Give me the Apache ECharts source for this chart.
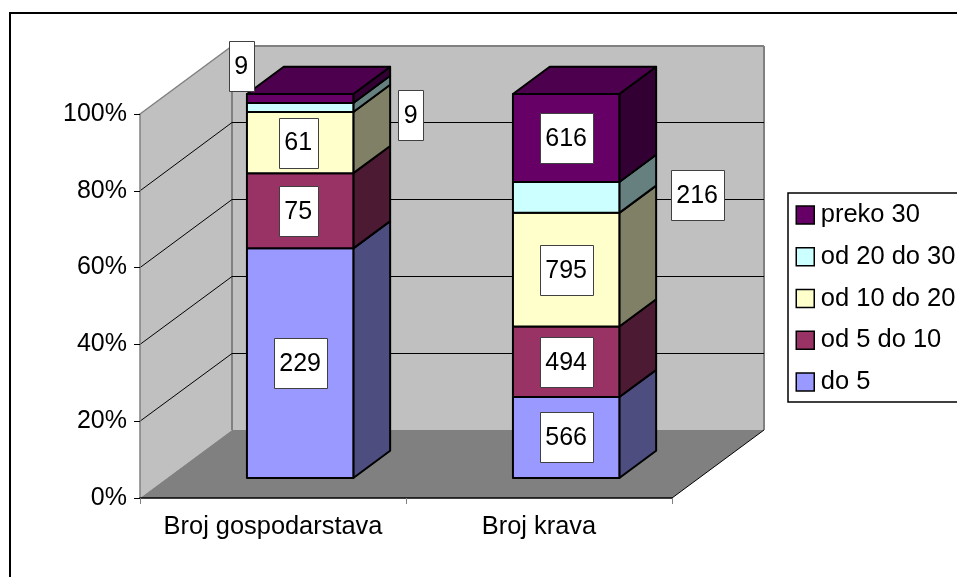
<!DOCTYPE html>
<html>
<head>
<meta charset="utf-8">
<style>html,body{margin:0;padding:0;background:#fff;overflow:hidden}#c{width:957px;height:577px}</style>
<script src="https://cdn.jsdelivr.net/npm/echarts@6/dist/echarts.min.js"></script>
</head>
<body>
<div id="c"></div>
<script>
// ---- data ----
const categories = ['Broj gospodarstava', 'Broj krava'];
const seriesNames = ['do 5', 'od 5 do 10', 'od 10 do 20', 'od 20 do 30', 'preko 30'];
const do5 = [229, 566];
const od5do10 = [75, 494];
const od10do20 = [61, 795];
const od20do30 = [9, 216];
const preko30 = [9, 616];
const gridTicks = [20, 40, 60, 80];

// ---- styles ----
const faceColors = ['#9999FF', '#993366', '#FFFFCC', '#CCFFFF', '#660066'];
const sideColors = ['#4D4D80', '#4D1A33', '#808066', '#668080', '#330033'];
const topColor = '#4D004D';
const FONT = '25px "Liberation Sans", Arial, sans-serif';
// projection of the 3D depth axis, in pixels
const DEPTH_X = 92, DEPTH_Y = 68;
const BAR_FRONT = 0.295, BAR_DEPTH = 0.4;   // share of the depth
const BAR_WIDTH = 0.4;                      // share of the band
// hand-moved labels: seriesIndex-categoryIndex -> shift from the face centre
const labelShift = {'4-0': [-59, -32], '3-0': [110.5, 7.5], '3-1': [131, -2.5], '2-0': [-2, 0], '1-0': [-2, 0]};

const stacks = [do5, od5do10, od10do20, od20do30, preko30];
const totals = categories.map((_, c) => stacks.reduce((s, a) => s + a[c], 0));
function rowsFor(level) {
  return categories.map((_, c) => {
    let below = 0;
    for (let i = 0; i < level; i++) below += stacks[i][c];
    return [c, below / totals[c] * 100, (below + stacks[level][c]) / totals[c] * 100, stacks[level][c]];
  });
}

function poly(pts, fill, stroke, lw) {
  return {type: 'polygon', shape: {points: pts}, style: {fill: fill, stroke: stroke || null, lineWidth: lw || 0, lineJoin: 'round'}};
}
function line(a, b, stroke, lw) {
  return {type: 'line', shape: {x1: a[0], y1: a[1], x2: b[0], y2: b[1]}, style: {stroke: stroke, lineWidth: lw}};
}

function renderWalls(params, api) {
  const band = api.size([1, 0])[0];
  const x0 = api.coord([0, 0])[0] - band / 2;
  const x1 = x0 + band * categories.length;
  const y0 = api.coord([0, 0])[1];
  const yT = api.coord([0, 100])[1];
  const gray = '#808080';
  const kids = [
    poly([[x0, yT], [x0 + DEPTH_X, yT - DEPTH_Y], [x0 + DEPTH_X, y0 - DEPTH_Y], [x0, y0]], '#C0C0C0'),
    poly([[x0 + DEPTH_X, yT - DEPTH_Y], [x1 + DEPTH_X, yT - DEPTH_Y], [x1 + DEPTH_X, y0 - DEPTH_Y], [x0 + DEPTH_X, y0 - DEPTH_Y]], '#C0C0C0'),
    poly([[x0, y0], [x0 + DEPTH_X, y0 - DEPTH_Y], [x1 + DEPTH_X, y0 - DEPTH_Y], [x1, y0]], '#808080'),
    line([x0, yT], [x0 + DEPTH_X, yT - DEPTH_Y], gray, 1.5),
    line([x0 + DEPTH_X, yT - DEPTH_Y], [x1 + DEPTH_X, yT - DEPTH_Y], gray, 2),
    line([x1 + DEPTH_X, yT - DEPTH_Y], [x1 + DEPTH_X, y0 - DEPTH_Y], gray, 2),
    line([x0 + DEPTH_X, yT - DEPTH_Y], [x0 + DEPTH_X, y0 - DEPTH_Y], gray, 2),
    line([x1, y0], [x1 + DEPTH_X, y0 - DEPTH_Y], '#000', 1)
  ];
  gridTicks.forEach(t => {
    const y = api.coord([0, t])[1];
    const back = Math.floor(y - DEPTH_Y) + 0.5;
    kids.push(line([x0, y], [x0 + DEPTH_X, back], '#000', 1));
    kids.push(line([x0 + DEPTH_X, back], [x1 + DEPTH_X, back], '#000', 1));
  });
  return {type: 'group', children: kids};
}

function barGeom(api) {
  const c = api.value(0);
  const band = api.size([1, 0])[0];
  const w = band * BAR_WIDTH;
  const fx = BAR_FRONT * DEPTH_X, fy = BAR_FRONT * DEPTH_Y;
  const dx = BAR_DEPTH * DEPTH_X, dy = BAR_DEPTH * DEPTH_Y;
  const cx = api.coord([c, 0])[0] + fx;
  const yLo = api.coord([c, api.value(1)])[1] - fy;
  const yHi = api.coord([c, api.value(2)])[1] - fy;
  return {l: cx - w / 2, r: cx + w / 2, cx, yLo, yHi, dx, dy};
}

function renderLevel(level) {
  return function (params, api) {
    const g = barGeom(api);
    const kids = [
      poly([[g.r, g.yLo], [g.r + g.dx, g.yLo - g.dy], [g.r + g.dx, g.yHi - g.dy], [g.r, g.yHi]], sideColors[level], '#000', 2),
      poly([[g.l, g.yLo], [g.r, g.yLo], [g.r, g.yHi], [g.l, g.yHi]], faceColors[level], '#000', 2)
    ];
    if (level === stacks.length - 1) {
      kids.push(poly([[g.l, g.yHi], [g.r, g.yHi], [g.r + g.dx, g.yHi - g.dy], [g.l + g.dx, g.yHi - g.dy]], topColor, '#000', 2));
    }
    return {type: 'group', children: kids};
  };
}

function renderLabel(level) {
  return function (params, api) {
    const g = barGeom(api);
    const txt = String(api.value(3));
    const shift = labelShift[level + '-' + api.value(0)] || [0, 0];
    const x = g.cx + shift[0], y = (g.yLo + g.yHi) / 2 + shift[1];
    const w = Math.round(13.9 * txt.length + 11), h = 50;
    return {type: 'group', children: [
      {type: 'rect', shape: {x: Math.round(x - w / 2) + 0.5, y: Math.round(y - h / 2) + 0.5, width: w, height: h},
       style: {fill: '#fff', stroke: '#404040', lineWidth: 1}},
      {type: 'text', style: {x: x, y: y + 1, text: txt, font: FONT, fill: '#000', align: 'center', verticalAlign: 'middle'}}
    ]};
  };
}

const series = [{
  type: 'custom', name: '__walls', coordinateSystem: 'cartesian2d', z: 1, silent: true,
  data: [[0, 0, 100]], encode: {x: 0, y: [1, 2]}, renderItem: renderWalls
}];
seriesNames.forEach((name, i) => {
  series.push({
    type: 'custom', name: name, coordinateSystem: 'cartesian2d', z: 2, silent: true,
    itemStyle: {color: faceColors[i]},
    data: rowsFor(i), encode: {x: 0, y: [1, 2]}, renderItem: renderLevel(i)
  });
});
seriesNames.forEach((name, i) => {
  series.push({
    type: 'custom', name: '__labels' + i, coordinateSystem: 'cartesian2d', z: 5, silent: true,
    data: rowsFor(i), encode: {x: 0, y: [1, 2]}, renderItem: renderLabel(i)
  });
});

const chart = echarts.init(document.getElementById('c'), null, {renderer: 'canvas', width: 957, height: 577});
chart.setOption({
  animation: false,
  backgroundColor: '#fff',
  textStyle: {fontFamily: '"Liberation Sans", Arial, sans-serif'},
  graphic: [{type: 'rect', z: 0, silent: true, shape: {x: 10, y: 13, width: 1200, height: 900},
             style: {fill: 'none', stroke: '#000', lineWidth: 2}}],
  grid: {left: 140, top: 114, width: 532, height: 384, containLabel: false},
  xAxis: {
    type: 'category', data: categories, z: 3,
    axisLine: {show: true, lineStyle: {color: '#000', width: 1.5}},
    axisTick: {show: true, length: 6, alignWithLabel: false, lineStyle: {color: '#808080', width: 1}},
    axisLabel: {show: true, color: '#000', fontSize: 25.4, margin: 16, fontFamily: '"Liberation Sans", Arial, sans-serif', interval: 0}
  },
  yAxis: {
    type: 'value', min: 0, max: 100, interval: 20, z: 3,
    axisLine: {show: true, lineStyle: {color: '#808080', width: 1.5}},
    axisTick: {show: true, length: 6, lineStyle: {color: '#000', width: 1}},
    splitLine: {show: false},
    axisLabel: {color: '#000', fontSize: 25, margin: 13, lineHeight: 29, formatter: '{value}%', fontFamily: '"Liberation Sans", Arial, sans-serif'}
  },
  legend: {
    show: true, orient: 'vertical', left: 788, top: 193,
    data: seriesNames.slice().reverse(),
    backgroundColor: '#fff', borderColor: '#000', borderWidth: 1.5, borderRadius: 0,
    padding: [8, 30, 6, 7.5],
    itemWidth: 18, itemHeight: 18, itemGap: 13.75, icon: 'rect', selectedMode: false,
    itemStyle: {borderColor: '#000', borderWidth: 1.5},
    textStyle: {color: '#000', fontSize: 25.5, lineHeight: 28, padding: [0, 0, 0, 1.5], fontFamily: '"Liberation Sans", Arial, sans-serif'}
  },
  series: series
});
</script>
</body>
</html>
